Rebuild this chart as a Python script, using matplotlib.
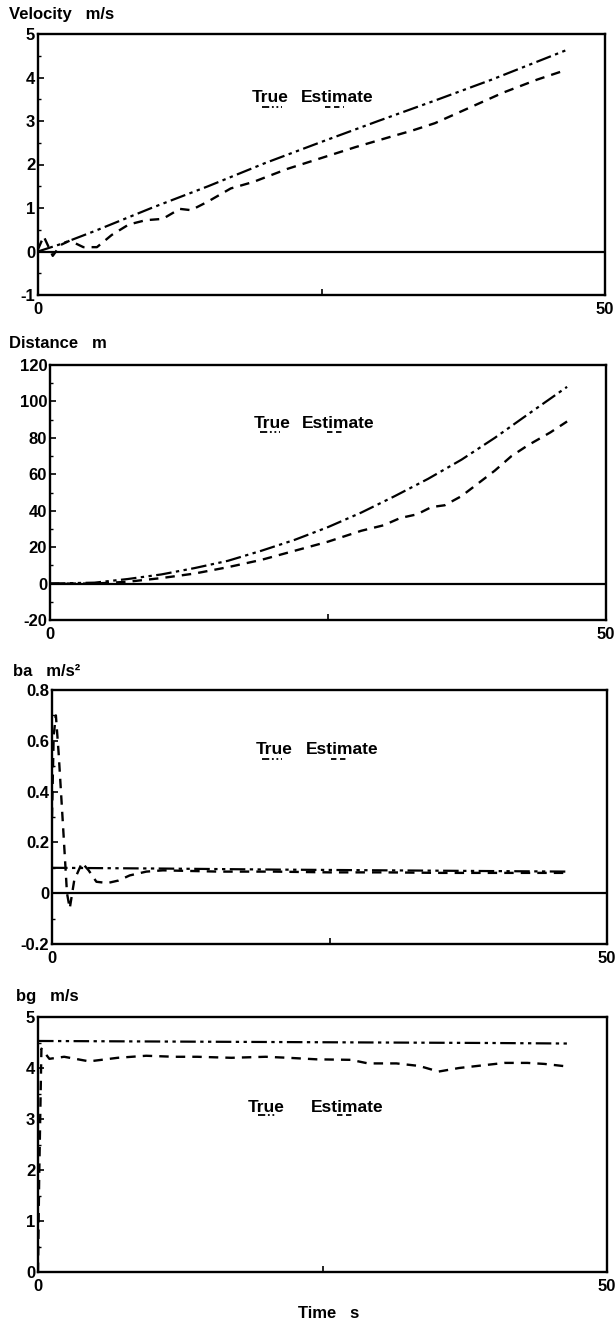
import matplotlib
matplotlib.use("Agg")
import matplotlib.pyplot as plt
from matplotlib.lines import Line2D
import numpy as np

plt.rcParams['font.family'] = ['Liberation Sans', 'DejaVu Sans']
plt.rcParams['font.weight'] = 'bold'

W, H = 616, 1323

# ---------------- data ----------------
# Velocity (m/s)
vel_true_t = [0, 2, 5, 10, 15, 20, 25, 30, 35, 40, 46.5]
vel_true_v = [0.0, 0.17, 0.47, 1.0, 1.5, 2.03, 2.52, 3.0, 3.47, 3.95, 4.62]
vel_est_t = [0, 0.5, 1.3, 2.0, 2.8, 4.0, 5.2, 6.5, 8.0, 9.5, 11.0, 12.5, 13.5, 15.0,
             17.0, 19.0, 22.0, 25.0, 28.0, 31.0, 33.0, 35.0, 38.0, 41.0, 44.0, 46.3]
vel_est_v = [0.05, 0.35, -0.1, 0.15, 0.25, 0.1, 0.1, 0.38, 0.62, 0.72, 0.75, 0.98, 0.95, 1.15,
             1.45, 1.6, 1.9, 2.15, 2.4, 2.63, 2.78, 2.95, 3.3, 3.65, 3.95, 4.15]

# Distance (m)
dist_true_t = [0, 4, 7, 10, 13, 16, 19, 22, 25, 28, 31, 34, 37, 40, 43, 46.5]
dist_true_v = [0, 0.5, 2.5, 5, 8.5, 12.5, 18, 24, 31, 39, 48, 57.5, 68, 80, 93, 108]
dist_est_t = [0, 4, 7, 10, 13, 16, 19, 22, 25, 28, 30, 31.5, 33, 34.3, 35.5, 37,
              38.5, 40, 41.5, 43, 45, 46.5]
dist_est_v = [0, 0, 1, 3, 5.5, 9, 13, 18, 23, 29, 32, 36, 38, 42, 43, 48,
              55, 62, 70, 76, 83, 89]

# ba (m/s^2)
ba_true_t = [0, 10, 20, 30, 40, 46.5]
ba_true_v = [0.1, 0.097, 0.093, 0.09, 0.087, 0.085]
ba_est_t = [0, 0.15, 0.35, 0.6, 1.0, 1.35, 1.6, 2.0, 2.7, 3.3, 4.0, 5.0, 6.0, 7.0,
            8.5, 10, 15, 20, 25, 30, 35, 40, 46.5]
ba_est_v = [0.3, 0.62, 0.7, 0.55, 0.26, 0.0, -0.06, 0.05, 0.12, 0.09, 0.045, 0.04, 0.05, 0.07,
            0.085, 0.09, 0.085, 0.085, 0.082, 0.082, 0.08, 0.08, 0.08]

# bg (m/s)
bg_true_t = [0, 10, 20, 30, 40, 46.5]
bg_true_v = [4.53, 4.52, 4.51, 4.5, 4.49, 4.48]
bg_est_t = [0, 0.1, 0.3, 1.0, 2.3, 4.5, 7.0, 9.5, 12, 14, 17, 20, 22, 24.5, 27.5, 29,
            31.5, 33.5, 35.2, 37, 39, 41, 43, 44.5, 46.5]
bg_est_v = [0, 1.8, 4.38, 4.18, 4.22, 4.13, 4.2, 4.24, 4.22, 4.22, 4.2, 4.22, 4.2, 4.17, 4.16, 4.09,
            4.09, 4.04, 3.93, 4.0, 4.05, 4.1, 4.1, 4.08, 4.03]

titles = ["Velocity   m/s", "Distance   m", "ba   m/s\u00b2", "bg   m/s"]
yticks_list = [[-1, 0, 1, 2, 3, 4, 5],
               [-20, 0, 20, 40, 60, 80, 100, 120],
               [-0.2, 0, 0.2, 0.4, 0.6, 0.8],
               [0, 1, 2, 3, 4, 5]]
ytick_labels = [["-1", "0", "1", "2", "3", "4", "5"],
                ["-20", "0", "20", "40", "60", "80", "100", "120"],
                ["-0.2", "0", "0.2", "0.4", "0.6", "0.8"],
                ["0", "1", "2", "3", "4", "5"]]
xticks = [0, 25, 50]
xtick_labels = ["0", "", "50"]
xlabel = "Time   s"

series = [
    (vel_true_t, vel_true_v, vel_est_t, vel_est_v),
    (dist_true_t, dist_true_v, dist_est_t, dist_est_v),
    (ba_true_t, ba_true_v, ba_est_t, ba_est_v),
    (bg_true_t, bg_true_v, bg_est_t, bg_est_v),
]

# ---------------- layout (pixels) ----------------
axes_px = [(38, 605, 34, 295), (50, 606, 365, 620), (52, 607, 690, 944), (38, 607, 1017, 1272)]
title_px = [(9, 14), (9, 343), (13, 672), (16, 996)]
legend_px = [  # x_true, x_est, y_text, true key (x0,x1), est key (x0,x1), y_key
    (252, 301, 97, (262, 282), (325, 344), 107),
    (254, 302, 423, (260, 280), (327, 343), 432),
    (256, 306, 750, (262, 282), (331, 348), 759),
    (248, 311, 1107, (258, 276), (337, 354), 1115),
]
zero_line = [True, True, True, False]

TRUE_STYLE = dict(color='black', lw=1.6, dashes=[7, 2, 1.5, 2, 1.5, 2])
EST_STYLE = dict(color='black', lw=1.7, dashes=[4, 3])

TICK_FS = 12
TITLE_FS = 12
LEG_FS = 12.5

fig = plt.figure(figsize=(W / 100, H / 100), dpi=100)


def fx(x):
    return x / W


def fy(y):
    return 1 - y / H


for i, (l, r, t, b) in enumerate(axes_px):
    ax = fig.add_axes([fx(l), fy(b), (r - l) / W, (b - t) / H])
    tt, tv, et, ev = series[i]
    ax.plot(tt, tv, **TRUE_STYLE)
    ax.plot(et, ev, **EST_STYLE)
    if zero_line[i]:
        ax.axhline(0, color='black', lw=1.6)
    ax.set_xlim(0, 50)
    yt = yticks_list[i]
    ax.set_ylim(yt[0], yt[-1])
    ax.set_yticks(yt)
    ax.set_yticklabels(ytick_labels[i], fontsize=TICK_FS, fontweight='bold')
    minor = [(yt[k] + yt[k + 1]) / 2 for k in range(len(yt) - 1)]
    ax.set_yticks(minor, minor=True)
    ax.set_xticks(xticks)
    ax.set_xticklabels(xtick_labels, fontsize=TICK_FS, fontweight='bold')
    ax.tick_params(axis='both', which='major', direction='in', length=4, width=1.2, pad=2)
    ax.tick_params(axis='y', which='minor', direction='in', length=2, width=1)
    ax.tick_params(axis='x', which='major', pad=5)
    for s in ax.spines.values():
        s.set_linewidth(1.7)
    # title label above the axes
    fig.text(fx(title_px[i][0]), fy(title_px[i][1]), titles[i], fontsize=TITLE_FS,
             fontweight='bold', ha='left', va='center')
    # legend: text with short line keys underneath
    xt, xe, yy, kt, ke, yk = legend_px[i]
    fig.text(fx(xt), fy(yy), "True", fontsize=LEG_FS, fontweight='bold', ha='left', va='center')
    fig.text(fx(xe), fy(yy), "Estimate", fontsize=LEG_FS, fontweight='bold', ha='left', va='center')
    fig.add_artist(Line2D([fx(kt[0]), fx(kt[1])], [fy(yk), fy(yk)], transform=fig.transFigure,
                          color='black', lw=1.3, dashes=[4, 1.5, 1, 1.5, 1, 1.5]))
    fig.add_artist(Line2D([fx(ke[0]), fx(ke[1])], [fy(yk), fy(yk)], transform=fig.transFigure,
                          color='black', lw=1.3, dashes=[3, 2]))

fig.text(fx(329), fy(1313), xlabel, fontsize=TITLE_FS, fontweight='bold', ha='center', va='center')

fig.savefig("out.png", dpi=100)
